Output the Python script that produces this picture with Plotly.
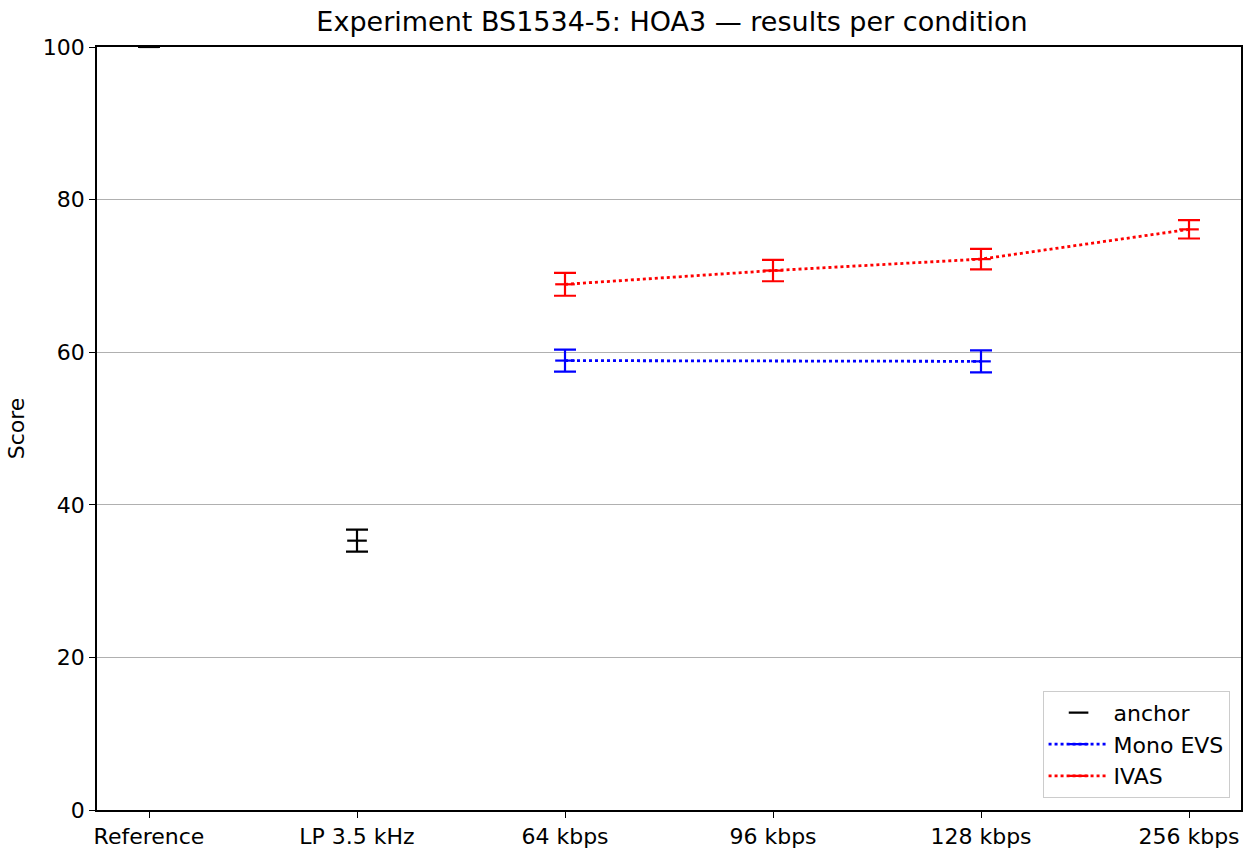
import plotly.graph_objects as go

categories = ["Reference", "LP 3.5 kHz", "64 kbps", "96 kbps", "128 kbps", "256 kbps"]

anchor_x = ["Reference", "LP 3.5 kHz"]
anchor_y = [100.0, 35.3]
anchor_err = [0.0, 1.45]

mono_x = ["64 kbps", "128 kbps"]
mono_y = [58.9, 58.8]
mono_err = [1.45, 1.45]

ivas_x = ["64 kbps", "96 kbps", "128 kbps", "256 kbps"]
ivas_y = [68.9, 70.7, 72.2, 76.1]
ivas_err = [1.5, 1.4, 1.35, 1.2]

y_ticks = [0, 20, 40, 60, 80, 100]

FONT = "DejaVu Sans"

def series(name, xs, ys, errs, color, with_line):
    return go.Scatter(
        x=xs, y=ys, name=name,
        mode="lines+markers" if with_line else "markers",
        line=dict(color=color, width=2.8, dash="dot"),
        marker=dict(symbol="line-ew", size=14, line=dict(color=color, width=2.2)),
        error_y=dict(type="data", array=errs, visible=True, color=color,
                     thickness=2.2, width=11),
    )

fig = go.Figure()
fig.add_trace(series("anchor", anchor_x, anchor_y, anchor_err, "black", False))
fig.add_trace(series("Mono EVS", mono_x, mono_y, mono_err, "blue", True))
fig.add_trace(series("IVAS", ivas_x, ivas_y, ivas_err, "red", True))

fig.update_layout(
    width=1251, height=848,
    margin=dict(l=97, r=10, t=47, b=38, autoexpand=False),
    paper_bgcolor="white", plot_bgcolor="white",
    font=dict(family=FONT, size=22, color="black"),
    title=dict(text="Experiment BS1534-5: HOA3 — results per condition",
               x=672 / 1251, xanchor="center", y=1 - 22 / 848, yanchor="middle",
               font=dict(size=27, family=FONT)),
    showlegend=True,
    legend=dict(x=0.99, y=0.016, xanchor="right", yanchor="bottom",
                bordercolor="#cccccc", borderwidth=1, bgcolor="rgba(255,255,255,0.8)",
                font=dict(size=22, family=FONT), itemwidth=60),
)
fig.update_xaxes(
    type="category", categoryorder="array", categoryarray=categories,
    range=[-0.25, 5.25], showgrid=False, zeroline=False, automargin=False,
    showline=True, linecolor="black", linewidth=1.5, mirror=True,
    ticks="outside", ticklen=6, tickcolor="black", tickwidth=1.2,
    tickfont=dict(size=22),
)
fig.update_yaxes(
    range=[0, 100], tickvals=y_ticks, showgrid=True, gridcolor="#b0b0b0", gridwidth=1.2,
    zeroline=False, automargin=False, showline=True, linecolor="black", linewidth=1.5, mirror=True,
    ticks="outside", ticklen=6, tickcolor="black", tickwidth=1.2,
    tickfont=dict(size=22),
    title=dict(text="Score", font=dict(size=22), standoff=12),
)

fig.write_html("out.html")
